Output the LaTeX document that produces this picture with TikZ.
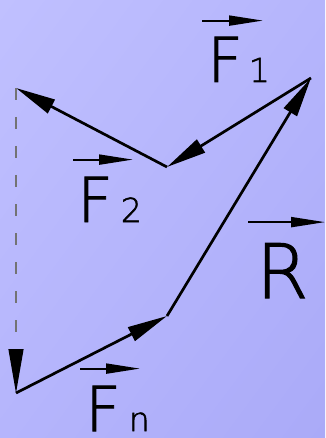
\documentclass[tikz,border=0pt]{standalone}
\usepackage{fontspec}
\newfontfamily\cadfont{DejaVu Sans ExtraLight}[FakeBold=1.6]
\usepackage{tikz}
\usetikzlibrary{positioning,arrows.meta,shadings}

\definecolor{bgtop}{RGB}{192,192,255}
\definecolor{bgmid}{RGB}{181,181,252}
\definecolor{bgbot}{RGB}{170,170,248}
\newcommand\bigsz{\fontsize{62}{62}\selectfont}
\newcommand\subsz{\fontsize{33}{33}\selectfont}

\tikzset{
  vec/.style={line width=2.7pt,-{Triangle[length=40pt,width=15pt]}},
  hidvec/.style={gray!90!black,line width=1.2pt,dash pattern=on 12pt off 17pt,
    -{Triangle[length=44pt,width=15pt,color=black]}},
  overvec/.style={line width=2pt,-{Triangle[length=34pt,width=10pt]}},
  lab/.style={inner sep=0pt,anchor=base west,font=\cadfont\bigsz}
}

\begin{document}
\begin{tikzpicture}[x=1pt,y=-1pt,>=Latex]
  \shade[upper left=bgtop,upper right=bgmid,lower left=bgmid,lower right=bgbot]
    (0,0) rectangle (325,438);
  \useasboundingbox (0,0) rectangle (325,438);

  % polygon of forces
  \coordinate (top) at (311,78);
  \coordinate (p1) at (167,167);
  \coordinate (p2) at (16,88);
  \coordinate (p3) at (16,393);
  \coordinate (pn) at (167,316);

  \draw[vec] (top) -- (p1);
  \draw[vec] (p1) -- (p2);
  \draw[hidvec] (p2) -- (p3);
  \draw[vec] (p3) -- (pn);
  \draw[vec] (pn) -- (top);

  % labels
  \node[lab] (f1) at (207,82) {F\hspace{6pt}{\subsz 1}};
  \node[lab] (f2) at (77,222) {F\hspace{8pt}{\subsz 2}};
  \node[lab,font=\cadfont\fontsize{75}{75}\selectfont] (r) at (256,298) {R};
  \node[lab] (fn) at (85,431) {F\hspace{8pt}{\subsz n}};

  \draw[overvec] ([xshift=-5pt,yshift=16pt]f1.north west) -- ++(61,0);
  \draw[overvec] ([xshift=-4pt,yshift=17pt]f2.north west) -- ++(60,0);
  \draw[overvec] ([xshift=-8pt,yshift=21pt]r.north west) -- ++(77,0);
  \draw[overvec] ([xshift=-5pt,yshift=17pt]fn.north west) -- ++(60,0);
\end{tikzpicture}
\end{document}
